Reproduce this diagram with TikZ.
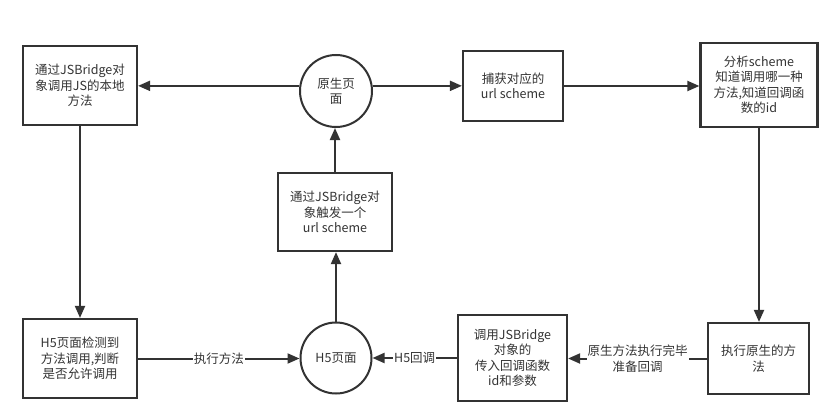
\documentclass[tikz,border=0pt]{standalone}
\usepackage{fontspec}
\setmainfont{Noto Sans CJK SC}
\usetikzlibrary{arrows.meta}
\definecolor{ink}{HTML}{333333}
\begin{document}
\begin{tikzpicture}[x=1pt,y=-1pt,
  every node/.style={font=\fontsize{12.5}{15.5}\selectfont, text=ink, align=center, inner sep=0pt},
  boxn/.style={draw=ink, line width=2.2pt, rectangle},
  circn/.style={draw=ink, line width=2pt, circle},
  conn/.style={draw=ink, line width=2pt, -{Triangle[length=12pt,width=10pt]}},
  lbl/.style={fill=white, inner sep=1pt}]
\useasboundingbox (0,0) rectangle (836,415);
\node[boxn, minimum width=114pt, minimum height=79pt] (b1) at (80,85.5) {通过JSBridge对\\象调用JS的本地\\方法};
\node[circn, minimum size=72pt] (c1) at (336,91) {原生页\\面};
\node[boxn, minimum width=100pt, minimum height=70pt] (b2) at (513,86) {捕获对应的\\url scheme};
\node[boxn, minimum width=117pt, minimum height=84pt] (b3) at (759,85) {分析scheme\\知道调用哪一种\\方法,知道回调函\\数的id};
\node[boxn, minimum width=114pt, minimum height=78pt] (b4) at (335,212) {通过JSBridge对\\象触发一个\\url scheme};
\node[boxn, minimum width=114pt, minimum height=79pt] (b5) at (80,358.5) {H5页面检测到\\方法调用,判断\\是否允许调用};
\node[circn, minimum size=71pt] (c2) at (336,358) {H5页面};
\node[boxn, minimum width=109pt, minimum height=86pt] (b6) at (512.5,358) {调用JSBridge\\对象的\\传入回调函数\\id和参数};
\node[boxn, minimum width=101pt, minimum height=71pt] (b7) at (758.5,358.5) {执行原生的方\\法};
\draw[conn] (c1.172) -- (c1.172 -| b1.east);
\draw[conn] (c1.8) -- (c1.8 -| b2.west);
\draw[conn] (b2.east) -- (b2.east -| b3.west);
\draw[conn] (b3.south) -- (b3.south |- b7.north);
\draw[conn] (b7.west) -- (b7.west -| b6.east) node[midway, lbl] (l1) {原生方法执行完毕\\准备回调};
\draw[conn] (b6.west) -- (b6.west -| c2.east) node[midway, lbl] (l2) {H5回调};
\draw[conn] (b5.east) -- (b5.east -| c2.west) node[midway, lbl] (l3) {执行方法};
\draw[conn] (c2.north) -- (c2.north |- b4.south);
\draw[conn] (b4.north) -- (b4.north |- c1.south);
\draw[conn] (b1.south) -- (b1.south |- b5.north);
\end{tikzpicture}
\end{document}
